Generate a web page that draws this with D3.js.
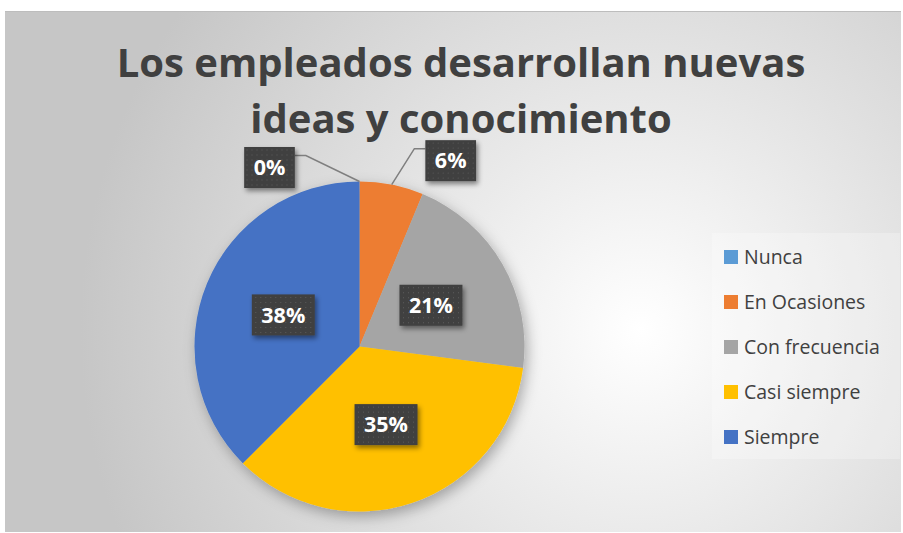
<!DOCTYPE html>
<html>
<head>
<meta charset="utf-8">
<title>Los empleados desarrollan nuevas ideas y conocimiento</title>
<script src="https://cdn.jsdelivr.net/npm/d3@7"></script>
<style>
  body { margin: 0; background: #fff; }
  svg { display: block; }
</style>
</head>
<body>
<script>
// data (counts out of 48 answers)
var categories = ["Nunca", "En Ocasiones", "Con frecuencia", "Casi siempre", "Siempre"];
var values = [0, 3, 10, 17, 18];
var colors = ["#5B9BD5", "#ED7D31", "#A5A5A5", "#FFC000", "#4472C4"];
var titleLines = ["Los empleados desarrollan nuevas", "ideas y conocimiento"];
// labels that sit outside the pie: [dx, dy] from the slice edge point
var outsideOffsets = { 0: [-90, -14], 1: [59, -24] };

var width = 903, height = 533;
var cx = 359.5, cy = 346.5, radius = 165;
var font = "'Open Sans', Lato, sans-serif";

var svg = d3.select("body").append("svg")
    .attr("width", width)
    .attr("height", height);

var defs = svg.append("defs");

var bg = defs.append("radialGradient")
    .attr("id", "bg")
    .attr("gradientUnits", "userSpaceOnUse")
    .attr("cx", 640).attr("cy", 330).attr("r", 560);
bg.append("stop").attr("offset", "0%").attr("stop-color", "#ffffff");
bg.append("stop").attr("offset", "100%").attr("stop-color", "#c6c6c6");

var pieShadow = defs.append("filter").attr("id", "pieShadow")
    .attr("x", "-20%").attr("y", "-20%").attr("width", "140%").attr("height", "140%");
pieShadow.append("feDropShadow")
    .attr("dx", 3).attr("dy", 5).attr("stdDeviation", 7)
    .attr("flood-color", "#000").attr("flood-opacity", 0.3);

var boxShadow = defs.append("filter").attr("id", "boxShadow")
    .attr("x", "-30%").attr("y", "-30%").attr("width", "160%").attr("height", "160%");
boxShadow.append("feDropShadow")
    .attr("dx", 2).attr("dy", 3).attr("stdDeviation", 2.5)
    .attr("flood-color", "#000").attr("flood-opacity", 0.45);

var dots = defs.append("pattern").attr("id", "dots")
    .attr("patternUnits", "userSpaceOnUse")
    .attr("width", 5).attr("height", 5);
dots.append("rect").attr("width", 5).attr("height", 5).attr("fill", "#3f3f3f");
dots.append("rect").attr("x", 2).attr("y", 2).attr("width", 1).attr("height", 1).attr("fill", "#5c5c5c");

// chart area
svg.append("rect")
    .attr("x", 5).attr("y", 11)
    .attr("width", 896).attr("height", 521)
    .attr("fill", "url(#bg)");
svg.append("line")
    .attr("x1", 5).attr("x2", 901).attr("y1", 11.5).attr("y2", 11.5)
    .attr("stroke", "#bdbdbd");

// title
svg.append("g").selectAll("text")
    .data(titleLines)
    .enter().append("text")
    .attr("x", 461)
    .attr("y", function(d, i) { return 77 + i * 56; })
    .attr("text-anchor", "middle")
    .attr("font-family", font)
    .attr("font-weight", "bold")
    .attr("font-size", 40)
    .attr("fill", "#404040")
    .text(function(d) { return d; });

// pie
var total = d3.sum(values);
var pct = d3.format(".0%");
var pie = d3.pie().sort(null).value(function(d) { return d; });
var arcs = pie(values);
var arc = d3.arc().innerRadius(0).outerRadius(radius);

var g = svg.append("g").attr("transform", "translate(" + cx + "," + cy + ")");

g.append("g").attr("filter", "url(#pieShadow)")
  .selectAll("path")
  .data(arcs)
  .enter().append("path")
    .attr("d", arc)
    .attr("fill", function(d, i) { return colors[i]; });

// labels
function edgePoint(d) {
  var a = (d.startAngle + d.endAngle) / 2;
  return [radius * Math.sin(a), -radius * Math.cos(a)];
}

var labels = g.append("g").selectAll("g")
    .data(arcs)
    .enter().append("g")
    .attr("transform", function(d, i) {
      var p;
      if (outsideOffsets[i]) {
        var e = edgePoint(d);
        p = [e[0] + outsideOffsets[i][0], e[1] + outsideOffsets[i][1]];
      } else {
        p = arc.centroid(d);
      }
      d.labelPos = p;
      return "translate(" + p[0] + "," + p[1] + ")";
    });

labels.each(function(d, i) {
  var lg = d3.select(this);
  var box = lg.append("rect").attr("fill", "url(#dots)").attr("filter", "url(#boxShadow)");
  var t = lg.append("text")
      .attr("text-anchor", "middle")
      .attr("dy", "0.36em")
      .attr("font-family", font)
      .attr("font-weight", "bold")
      .attr("font-size", 21.5)
      .attr("fill", "#ffffff")
      .text(pct(d.value / total));
  var w = t.node().getComputedTextLength() + 19;
  d.boxW = w;
  box.attr("x", -w / 2).attr("y", -20.5).attr("width", w).attr("height", 41);
});

// leader lines for outside labels
labels.filter(function(d, i) { return outsideOffsets[i]; })
  .each(function(d, i) {
    var e = edgePoint(d);
    var p = d.labelPos;
    var side = p[0] < e[0] ? 1 : -1;   // label left of the anchor -> line leaves its right side
    var bx = p[0] + side * d.boxW / 2;
    var by = p[1] - 12;
    var kx = bx + side * 11;
    g.insert("path", ":scope > g:last-child")
      .attr("d", "M" + bx + "," + by + "L" + kx + "," + by + "L" + e[0] + "," + e[1])
      .attr("fill", "none")
      .attr("stroke", "#7f7f7f")
      .attr("stroke-width", 1.5);
  });

// legend
var legend = svg.append("g");
legend.append("rect")
    .attr("x", 712).attr("y", 233)
    .attr("width", 188).attr("height", 226)
    .attr("fill", "#ffffff").attr("fill-opacity", 0.25);

var rows = legend.selectAll("g.row")
    .data(categories)
    .enter().append("g")
    .attr("class", "row")
    .attr("transform", function(d, i) { return "translate(724," + (257 + i * 45) + ")"; });
rows.append("rect")
    .attr("x", 0).attr("y", -7)
    .attr("width", 14).attr("height", 14)
    .attr("fill", function(d, i) { return colors[i]; });
rows.append("text")
    .attr("x", 20)
    .attr("dy", "0.35em")
    .attr("font-family", font)
    .attr("font-size", 19.5)
    .attr("fill", "#404040")
    .text(function(d) { return d; });
</script>
</body>
</html>
